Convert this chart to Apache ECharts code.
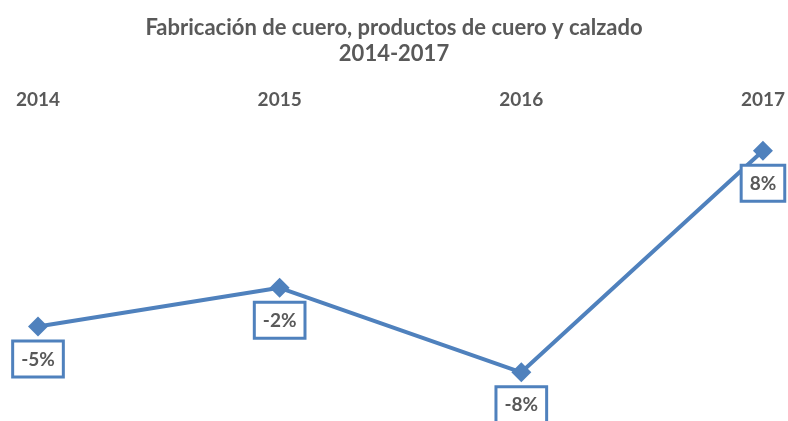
<!DOCTYPE html>
<html>
<head>
<meta charset="utf-8">
<script src="https://cdn.jsdelivr.net/npm/echarts@6/dist/echarts.min.js"></script>
<style>
    html, body { margin: 0; padding: 0; background: #fff; }
    #chart { width: 788px; height: 421px; }
</style>
</head>
<body>
<div id="chart"></div>
<script>
// datos
const years = ['2014', '2015', '2016', '2017'];
const growth = [-4.7, -1.9, -8, 8];

const gray = '#595959';
const blue = '#4f81bd';
const font = 'Lato, "Open Sans", sans-serif';

const chart = echarts.init(document.getElementById('chart'));
chart.setOption({
    animation: false,
    title: {
        text: 'Fabricación de cuero, productos de cuero y calzado\n2014-2017',
        left: 'center',
        top: 10,
        textStyle: { color: gray, fontFamily: font, fontSize: 22, fontWeight: 'bold', lineHeight: 26 },
    },
    grid: { left: 38, right: 23, top: 123, bottom: 21 },
    xAxis: {
        type: 'category',
        data: years,
        position: 'top',
        boundaryGap: false,
        axisLine: { show: false },
        axisTick: { show: false },
        axisLabel: { color: gray, fontFamily: font, fontSize: 19, fontWeight: 'bold', margin: 14 },
    },
    yAxis: {
        type: 'value',
        min: -10,
        max: 10,
        show: false,
        splitLine: { show: false },
    },
    series: [{
        type: 'line',
        data: growth,
        symbol: 'diamond',
        symbolSize: 20,
        lineStyle: { color: blue, width: 4 },
        itemStyle: { color: blue },
        label: {
            show: true,
            position: 'bottom',
            distance: 6,
            formatter: p => Math.round(p.value) + '%',
            color: gray,
            fontFamily: font,
            fontSize: 19,
            lineHeight: 20,
            fontWeight: 'bold',
            backgroundColor: '#fff',
            borderColor: blue,
            borderWidth: 3,
            padding: [7, 7, 6, 7],
        },
    }],
});
</script>
</body>
</html>
